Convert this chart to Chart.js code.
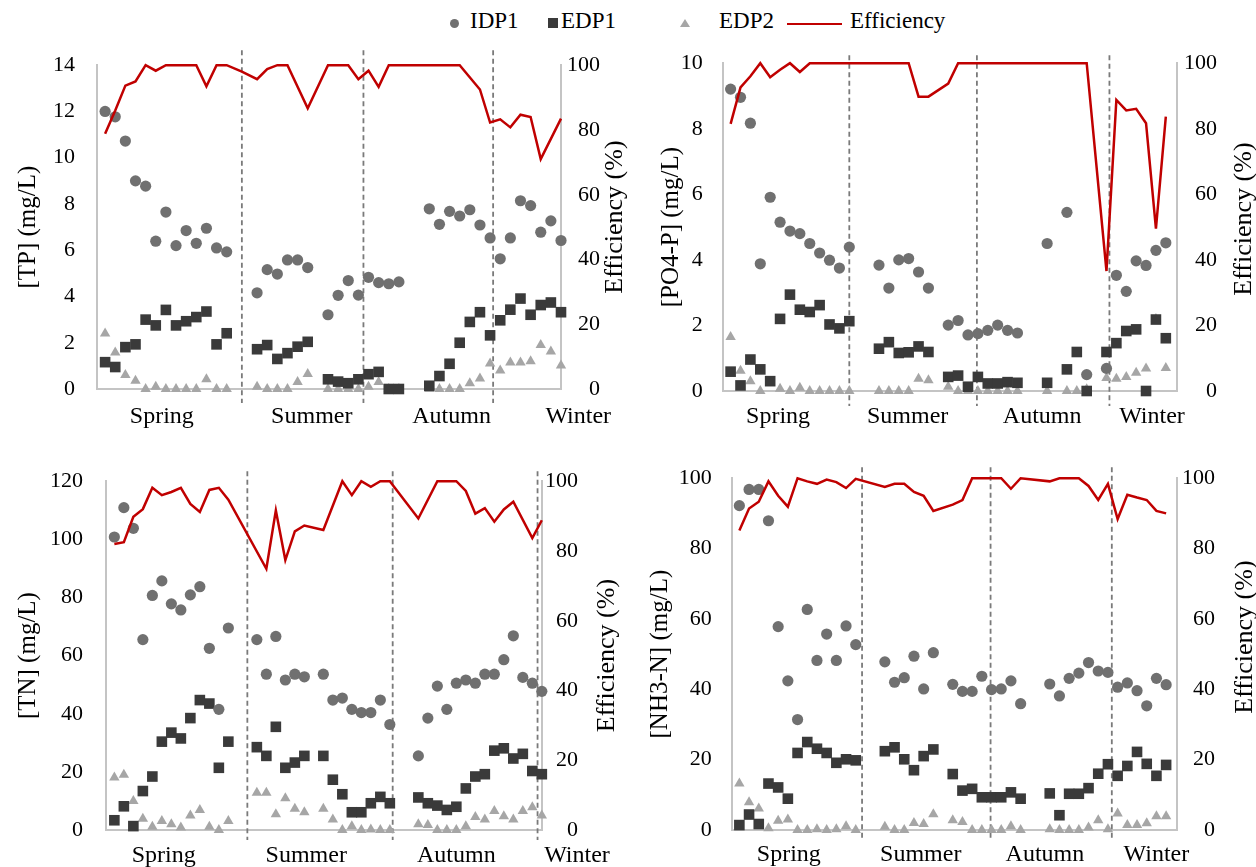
<!DOCTYPE html>
<html>
<head>
<meta charset="utf-8">
<script src="https://cdn.jsdelivr.net/npm/chart.js@4.4.0/dist/chart.umd.min.js"></script>
<style>
  body { margin: 0; background: #fff; width: 1256px; height: 867px; position: relative; overflow: hidden; font-family: 'Liberation Serif', 'Times New Roman', serif; }
  canvas { position: absolute; }
  .tx { position: absolute; top: 8.5px; font-size: 23px; line-height: 23px; color: #000; white-space: nowrap; }
  .mk { position: absolute; }
  .tri { position: absolute; width: 0; height: 0; border-left: 5px solid transparent; border-right: 5px solid transparent; border-bottom: 8px solid #a6a6a6; }
</style>
</head>
<body>
<span class="mk" style="left:449.5px;top:19px;width:9px;height:9px;border-radius:50%;background:#707070"></span>
<span class="tx" style="left:470px">IDP1</span>
<span class="mk" style="left:548px;top:18px;width:10px;height:10px;background:#3a3a3a"></span>
<span class="tx" style="left:561px">EDP1</span>
<span class="tri" style="left:680px;top:19px"></span>
<span class="tx" style="left:719px">EDP2</span>
<span class="mk" style="left:787px;top:22.6px;width:55px;height:2.5px;background:#c00000"></span>
<span class="tx" style="left:850px">Efficiency</span>

<canvas id="c1" width="630" height="410" style="left:0;top:30px"></canvas>
<canvas id="c2" width="626" height="410" style="left:630px;top:30px"></canvas>
<canvas id="c3" width="630" height="422" style="left:0;top:445px"></canvas>
<canvas id="c4" width="626" height="422" style="left:630px;top:445px"></canvas>

<script>
// ---- data ----
const seasons = ['Spring', 'Summer', 'Autumn', 'Winter'];

// [TP]
const tpSlots = [0,1,2,3,4,5,6,7,8,9,10,11,12, 15,16,17,18,19,20, 22,23,24,25,26,27,28,29, 32,33,34,35,36,37,38,39,40,41,42,43,44,45];
const tpIDP1 = [12.0,11.77,10.72,9.0,8.77,6.39,7.65,6.2,6.85,6.3,6.95,6.1,5.93, 4.16,5.16,4.97,5.58,5.58,5.25, 3.21,4.05,4.69,4.06,4.83,4.6,4.55,4.63, 7.79,7.12,7.68,7.48,7.75,7.09,6.53,5.63,6.53,8.14,7.93,6.78,7.27,6.42];
const tpEDP1 = [1.16,0.95,1.81,1.93,3.0,2.75,3.42,2.75,2.93,3.11,3.35,1.93,2.41, 1.72,1.9,1.3,1.55,1.83,2.04, 0.42,0.32,0.25,0.42,0.64,0.74,0,0, 0.14,0.56,1.09,2.0,2.9,3.32,2.32,2.97,3.43,3.91,3.21,3.63,3.74,3.32];
const tpEDP2 = [2.4,1.58,0.6,0.36,0,0.1,0,0,0,0,0.42,0,0, 0.1,0,0,0,0.3,0.65, 0,0,0,0,0.1,0.3,0,0, 0,0,0,0,0.25,0.45,1.1,0.8,1.15,1.15,1.2,1.9,1.62,1.02];
const tpEffSlots = [0,1,2,3,4,5,6,7,8,9,10,11,12,13.5,15,16,17,18,20,22,24,25,26,27,28,35,37,38,39,40,41,42,43,45];
const tpEff = [78.8,86,93.7,95,100,98.3,100,100,100,100,93.5,100,100,98,95.7,98.8,100,100,86.7,100,100,95.7,98.3,93.3,100,100,92.5,82.3,83.3,80.8,84.7,84,71,83.5];
const tpSeasonAt = [5.6, 20.4, 34.2, 46.7];
const tpDashAt = [13.5, 25.5, 38.3];

// [PO4-P]
const poSlots = [0,1,2,3,4,5,6,7,8,9,10,11,12, 15,16,17,18,19,20, 22,23,24,25,26,27,28,29, 32,34,35,36,38, 39,40,41,42,43,44];
const poIDP1 = [9.21,8.96,8.17,3.88,5.91,5.15,4.88,4.8,4.5,4.21,3.99,3.75,4.39, 3.84,3.14,4.0,4.04,3.63,3.14, 2.01,2.15,1.71,1.75,1.85,2.01,1.85,1.77, 4.5,5.45,null,0.5,0.69, 3.53,3.04,3.97,3.83,4.29,4.52];
const poEDP1 = [0.59,0.17,0.96,0.66,0.3,2.2,2.94,2.48,2.41,2.62,2.03,1.91,2.13, 1.29,1.49,1.16,1.18,1.36,1.19, 0.43,0.47,0.13,0.43,0.23,0.23,0.27,0.25, 0.25,0.66,1.19,0,1.19, 1.46,1.83,1.88,0,2.18,1.61];
const poEDP2 = [1.65,0.62,0.3,0,0.27,0.07,0,0.1,0,0,0,0,0, 0,0,0,0,0.37,0.33, 0.13,0,0,0,0,0,0,0, 0,0,0,0.05,0.4, 0.37,0.43,0.56,0.69,2.2,0.7];
const poEffSlots = [0,1,2,3,4,5,6,7,8,18,19,20,22,23,36,38,39,40,41,42,43,44];
const poEff = [81.5,92.6,96,100,95.7,98,100,97.3,100,100,89.8,89.8,93.8,100,100,36.6,88.8,85.6,86.1,81.7,49.5,83.7];
const poSeasonAt = [4.8, 17.9, 31.5, 42.6];
const poDashAt = [12.0, 24.9, 38.3];

// [TN]
const tnSlots = [0,1,2,3,4,5,6,7,8,9,10,11,12, 15,16,17,18,19,20, 22,23,24,25,26,27,28,29, 32,33,34,35,36,37,38,39,40,41,42,43,44,45];
const tnIDP1 = [100.8,110.9,103.8,65.5,80.7,85.7,77.8,75.7,80.9,83.7,62.5,41.5,69.5, 65.5,53.6,66.6,51.6,53.6,52.7, 53.6,44.7,45.4,41.5,40.4,40.4,44.7,36.3, 25.5,38.5,49.5,41.5,50.5,51.6,50.5,53.6,53.6,58.6,66.8,52.5,50.5,47.7];
const tnEDP1 = [3.35,8.15,1.34,13.4,18.4,30.4,33.5,31.5,38.5,44.7,43.5,21.4,30.4, 28.5,25.5,35.5,21.4,23.2,25.5, 25.5,17.3,12.3,6.1,6.1,9.2,11.4,9.2, 11.2,9.2,8.4,6.9,8.0,14.3,18.4,19.2,27.3,28.1,24.6,26.2,20.3,19.2];
const tnEDP2 = [18.1,19,10,3.9,1.1,3.1,2,0.9,5,6.9,1.1,0,3.1, 12.8,12.8,5.4,10.9,7.3,6.1, 7.3,3.6,0,1.3,0,0.2,0,0, 2,1.7,0,0,0,1.3,4.5,3.6,6.5,4.7,3.6,6.5,7.8,5];
const tnEffSlots = [0,1,2,3,4,5,6,7,8,9,10,11,12,16,17,18,19,20,22,24,25,26,27,28,29,32,34,36,37,38,39,40,41,42,44,45];
const tnEff = [82,82.5,89.8,92,98.1,96,96.9,98.1,93.5,91.2,97.5,98.1,94.7,74.9,91.6,77.4,85.6,87.3,86,100,96,100,98.4,100,100,89.3,100,100,97.2,90.7,92.3,88.4,91.9,94.1,83.7,88.8];
const tnSeasonAt = [5.2, 20.2, 36.0, 48.7];
const tnDashAt = [14.0, 29.3, 44.55];

// [NH3-N]
const nhSlots = [0,1,2,3,4,5,6,7,8,9,10,11,12, 15,16,17,18,19,20, 22,23,24,25,26,27,28,29, 32,33,34,35,36,37,38,39,40,41,42,43,44];
const nhIDP1 = [92.2,96.8,96.8,87.9,57.8,42.4,31.4,62.7,48.2,55.7,48.2,58,52.7, 47.8,42,43.3,49.4,40.1,50.4, 41.4,39.4,39.4,43.7,39.9,40.1,42.4,35.9, 41.5,38.1,43.1,44.6,47.6,45.2,44.8,40.6,41.8,39.6,35.3,43.1,41.3];
const nhEDP1 = [1.4,4.4,1.7,13.2,12.1,8.9,21.9,25,23.1,21.9,19.1,20.1,19.8, 22.4,23.5,20.1,17,21,22.9, 15.9,11.2,11.7,9.3,9.3,9.3,10.7,8.9, 10.4,4.2,10.3,10.3,11.9,16,18.7,15.4,18.2,22.2,18.8,15.4,18.5];
const nhEDP2 = [13.2,7.9,6.1,0.5,2.6,3,0,0,0.2,0,0.2,1.1,0, 0.9,0,0,2,1.7,4.5, 2.8,2.3,0,0,0,0,1.1,0, 0.2,0,0,0,0.7,2.8,0.2,4.7,1.4,1.4,1.9,3.9,3.9];
const nhEffSlots = [0,1,2,3,4,5,6,7,8,9,10,11,12,15,16,17,18,19,20,22,23,24,27,28,29,32,33,35,36,37,38,39,40,41,42,43,44];
const nhEff = [85.1,91.4,93.3,99.1,95,91.9,100,99.1,98.4,99.6,98.9,97.2,99.8,97.5,98.4,98.4,96.1,95,90.7,92.5,93.8,100,100,97,100,99.1,100,100,97.8,93.8,98.4,88.4,95.3,94.5,93.8,90.7,90];
const nhSeasonAt = [5.1, 18.7, 31.5, 43.0];
const nhDashAt = [12.65, 25.9, 38.4];

// ---- drawing ----
const serif = "'Liberation Serif', 'Times New Roman', serif";
Chart.defaults.color = '#000';
const axisGrey = '#c4c4c4';

const pts = (xs, ys) => xs.map((x, i) => ({x: x, y: ys[i]})).filter(p => p.y !== null);

function panel(id, p) {
  const dashPlugin = {
    id: 'dash' + id,
    beforeDatasetsDraw(chart) {
      const {ctx, chartArea, scales} = chart;
      ctx.save();
      ctx.strokeStyle = '#7a7a7a';
      ctx.lineWidth = 1.8;
      ctx.setLineDash([5, 3.5]);
      p.dashAt.forEach(v => {
        const px = scales.x.getPixelForValue(v);
        ctx.beginPath();
        ctx.moveTo(px, chartArea.top - p.dashUp);
        ctx.lineTo(px, chartArea.bottom + p.dashDown);
        ctx.stroke();
      });
      ctx.restore();
    }
  };
  // right axis title reads bottom-to-top like the left one
  const rightTitle = {
    id: 'rtitle' + id,
    afterDraw(chart) {
      const {ctx, chartArea, scales} = chart;
      ctx.save();
      ctx.translate(scales.y2.right + p.rdx, (chartArea.top + chartArea.bottom) / 2 + p.rdy);
      ctx.rotate(-Math.PI / 2);
      ctx.font = '26px ' + serif;
      ctx.fillStyle = '#000';
      ctx.textAlign = 'center';
      ctx.textBaseline = 'middle';
      ctx.fillText('Efficiency (%)', 0, 0);
      ctx.restore();
    }
  };
  const marker = (label, ys, style, color, r) => ({
    type: 'scatter', label: label, data: pts(p.slots, ys), yAxisID: 'y',
    pointStyle: style, pointRadius: r, pointHoverRadius: r,
    backgroundColor: color, borderColor: color, borderWidth: 0, clip: false
  });
  new Chart(document.getElementById(id), {
    type: 'scatter',
    data: {
      datasets: [
        {type: 'line', label: 'Efficiency', data: pts(p.effSlots, p.eff), yAxisID: 'y2',
         borderColor: '#c00000', borderWidth: 2.5, pointRadius: 0, fill: false, tension: 0, clip: false},
        marker('IDP1', p.idp1, 'circle', '#707070', 5.6),
        marker('EDP1', p.edp1, 'rect', '#3a3a3a', 7.5),
        marker('EDP2', p.edp2, 'triangle', '#a6a6a6', 6)
      ]
    },
    options: {
      responsive: false,
      animation: false,
      events: [],
      layout: {padding: {left: 0, top: p.top, right: p.pr, bottom: 0}},
      plugins: {legend: {display: false}, tooltip: {enabled: false}},
      scales: {
        x: {
          type: 'linear', min: p.xmin, max: p.xmax,
          grid: {display: false, drawTicks: false},
          border: {display: true, color: axisGrey, width: 2},
          ticks: {font: {family: serif, size: 24}, padding: p.xpad, autoSkip: false, maxRotation: 0, minRotation: 0,
                  callback: (v, i) => seasons[i]},
          afterBuildTicks: s => { s.ticks = p.seasonAt.map(v => ({value: v})); },
          afterFit: s => { s.height = p.xh; }
        },
        y: {
          position: 'left', min: 0, max: p.ymax,
          grid: {display: false, drawTicks: false},
          border: {display: true, color: axisGrey, width: 2},
          ticks: {stepSize: p.ystep, font: {family: serif, size: 22}, padding: p.ltp},
          title: {display: true, text: p.ytitle, font: {family: serif, size: 25}, padding: {top: p.ltitle, bottom: 0}},
          afterFit: s => { s.width = p.lw; }
        },
        y2: {
          position: 'right', min: 0, max: 100,
          grid: {display: false, drawTicks: false},
          border: {display: true, color: axisGrey, width: 2},
          ticks: {stepSize: 20, font: {family: serif, size: 22}, crossAlign: 'far'},
          afterFit: s => { s.width = p.rw; }
        }
      }
    },
    plugins: [dashPlugin, rightTitle]
  });
}

panel('c1', {slots: tpSlots, idp1: tpIDP1, edp1: tpEDP1, edp2: tpEDP2, effSlots: tpEffSlots, eff: tpEff,
  seasonAt: tpSeasonAt, dashAt: tpDashAt, ytitle: '[TP] (mg/L)', ymax: 14, ystep: 2,
  xmin: -0.8, xmax: 45, top: 25, pr: 30, xh: 51, lw: 97, rw: 39, ltp: 22, ltitle: 13,
  xpad: 13, rdx: 15, rdy: -10, dashUp: 15, dashDown: 14});

panel('c2', {slots: poSlots, idp1: poIDP1, edp1: poEDP1, edp2: poEDP2, effSlots: poEffSlots, eff: poEff,
  seasonAt: poSeasonAt, dashAt: poDashAt, ytitle: '[PO4-P] (mg/L)', ymax: 10, ystep: 2,
  xmin: -0.8, xmax: 45.1, top: 25, pr: 39, xh: 49, lw: 92.7, rw: 40.3, ltp: 20, ltitle: 26.7,
  xpad: 11, rdx: 27, rdy: -8, dashUp: 8, dashDown: 15});

panel('c3', {slots: tnSlots, idp1: tnIDP1, edp1: tnEDP1, edp2: tnEDP2, effSlots: tnEffSlots, eff: tnEff,
  seasonAt: tnSeasonAt, dashAt: tnDashAt, ytitle: '[TN] (mg/L)', ymax: 120, ystep: 20,
  xmin: -0.88, xmax: 45.05, top: 26.7, pr: 52, xh: 37, lw: 106, rw: 35.7, ltp: 23, ltitle: 13.3,
  xpad: 11, rdx: 28.7, rdy: 0, dashUp: 10, dashDown: 10});

panel('c4', {slots: nhSlots, idp1: nhIDP1, edp1: nhEDP1, edp2: nhEDP2, effSlots: nhEffSlots, eff: nhEff,
  seasonAt: nhSeasonAt, dashAt: nhDashAt, ytitle: '[NH3-N] (mg/L)', ymax: 100, ystep: 20,
  xmin: -0.79, xmax: 45.09, top: 27.7, pr: 41, xh: 37, lw: 101.7, rw: 38.3, ltp: 20, ltitle: 15,
  xpad: 10, rdx: 30, rdy: -17, dashUp: 11, dashDown: 10});
</script>
</body>
</html>
